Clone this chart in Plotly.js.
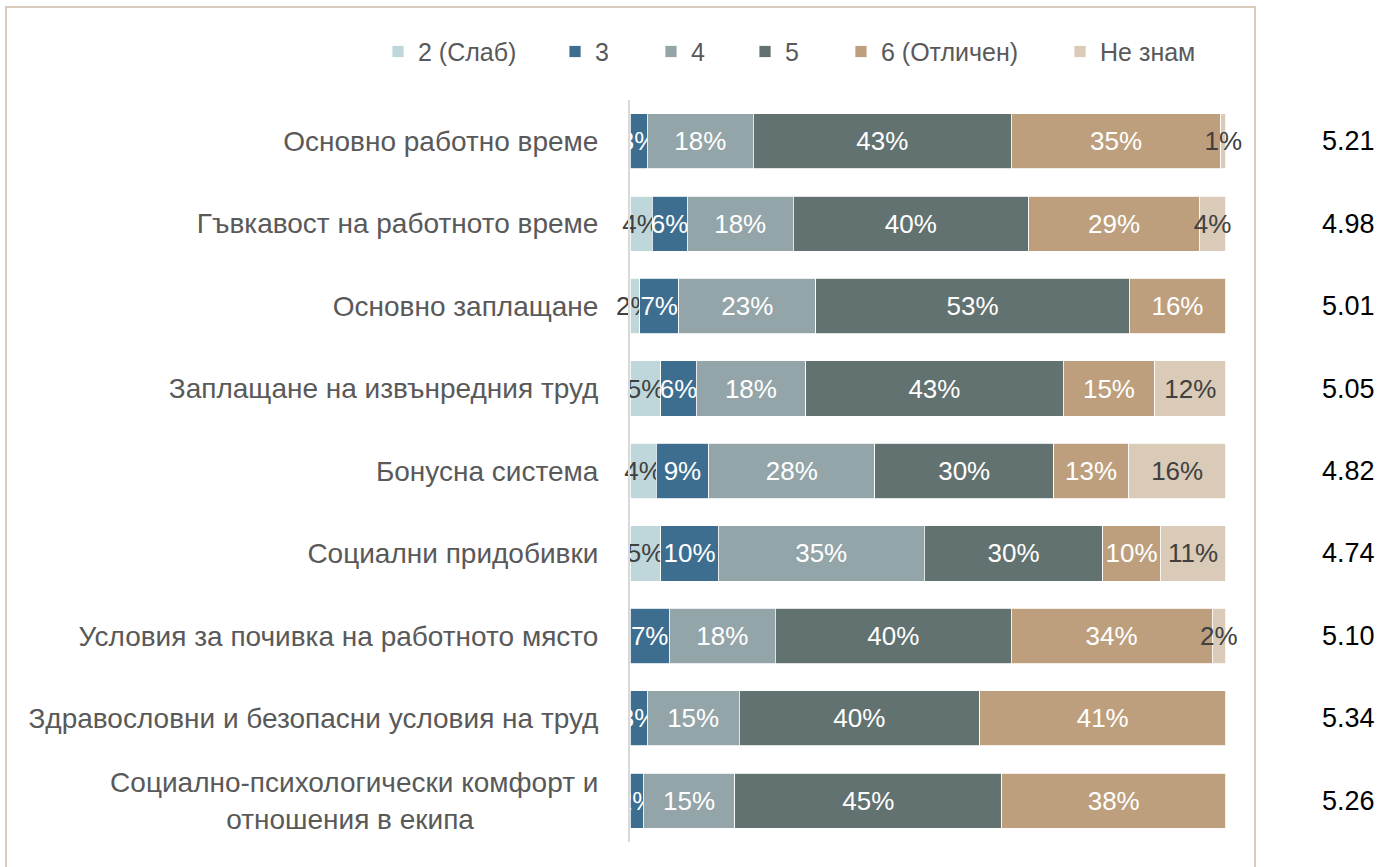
<!DOCTYPE html>
<html>
<head>
<meta charset="utf-8">
<script src="https://cdn.plot.ly/plotly-3.0.1.min.js"></script>
<style>html,body{margin:0;padding:0;background:#fff;}#chart{width:1398px;height:867px;}</style>
</head>
<body>
<div id="chart"></div>
<script>
const categories = [
  "Основно работно време",
  "Гъвкавост на работното време",
  "Основно заплащане",
  "Заплащане на извънредния труд",
  "Бонусна система",
  "Социални придобивки",
  "Условия за почивка на работното място",
  "Здравословни и безопасни условия на труд",
  "Социално-психологически комфорт и<br>отношения в екипа" + "\u00a0".repeat(16)
];
const seriesNames = ["2 (Слаб)", "3", "4", "5", "6 (Отличен)", "Не знам"];
const s2     = [null, 3.7, 1.6, 5.2, 4.4, 5.2, null, null, null];
const s3     = [2.9, 5.9, 6.6, 5.9, 8.8, 9.6, 6.6, 2.9, 2.2];
const s4     = [17.8, 17.8, 23.0, 18.4, 27.9, 34.6, 17.8, 15.4, 15.4];
const s5     = [43.3, 39.5, 52.6, 43.2, 30.0, 30.0, 39.6, 40.4, 44.8];
const s6     = [35.2, 28.7, 16.2, 15.4, 12.6, 9.6, 33.7, 41.3, 37.6];
const sNe    = [0.8, 4.4, null, 11.9, 16.3, 11.0, 2.3, null, null];
const averages = ["5.21", "4.98", "5.01", "5.05", "4.82", "4.74", "5.10", "5.34", "5.26"];

const colors = ["#bfd7db", "#3d6e8f", "#93a5a8", "#627270", "#bd9f7d", "#dacbb8"];
const textColors = ["#404040", "#ffffff", "#ffffff", "#ffffff", "#ffffff", "#404040"];
const allSeries = [s2, s3, s4, s5, s6, sNe];
const legendX = [-0.4228, -0.1258, 0.0352, 0.1930, 0.3540, 0.7215];
const FONT = "Liberation Sans, Arial, sans-serif";

const traces = allSeries.map((vals, i) => ({
  type: "bar",
  orientation: "h",
  name: seriesNames[i],
  legend: i === 0 ? "legend" : "legend" + (i + 1),
  y: categories,
  x: vals,
  text: vals.map(v => (v === null ? "" : Math.round(v) + "%")),
  texttemplate: "%{text}",
  textposition: "inside",
  textangle: 0,
  constraintext: "none",
  insidetextanchor: "middle",
  textfont: {family: FONT, size: 26, color: textColors[i]},
  marker: {color: colors[i], line: {color: "#ffffff", width: 0.8}},
  cliponaxis: false,
  hoverinfo: "skip"
}));

const annotations = categories.map((c, i) => ({
  xref: "paper", yref: "y", x: 1.2047, y: c, text: averages[i],
  showarrow: false, xanchor: "center", yanchor: "middle",
  font: {family: FONT, size: 27, color: "#000000"}
}));

const layout = {
  width: 1398, height: 867,
  margin: {l: 630, r: 172, t: 100, b: 25},
  paper_bgcolor: "#ffffff", plot_bgcolor: "#ffffff",
  barmode: "stack",
  bargap: 0.33,
  showlegend: true,
  uniformtext: {mode: "show", minsize: 26},
  xaxis: {range: [0, 100.05], showgrid: false, zeroline: false, showticklabels: false, showline: false, fixedrange: true},
  yaxis: {
    autorange: "reversed", showgrid: false, zeroline: false,
    showline: true, linecolor: "#d9d9d9", linewidth: 2,
    ticks: "", ticklabelstandoff: 24,
    tickfont: {family: FONT, size: 28, color: "#595959"}
  },
  annotations: annotations,
  shapes: [{
    type: "rect", xref: "paper", yref: "paper",
    x0: -1.047, x1: 1.0487, y0: -0.06, y1: 1.1253,
    line: {color: "#d9cbb9", width: 2}, fillcolor: "rgba(0,0,0,0)", layer: "below"
  }]
};
legendX.forEach((lx, i) => {
  const key = i === 0 ? "legend" : "legend" + (i + 1);
  layout[key] = {
    orientation: "h", x: lx, y: 1.065, xanchor: "left", yanchor: "middle",
    font: {family: FONT, size: 25, color: "#595959"},
    bgcolor: "rgba(0,0,0,0)", itemwidth: 30
  };
});

Plotly.newPlot("chart", traces, layout, {displayModeBar: false, staticPlot: true});
</script>
</body>
</html>
